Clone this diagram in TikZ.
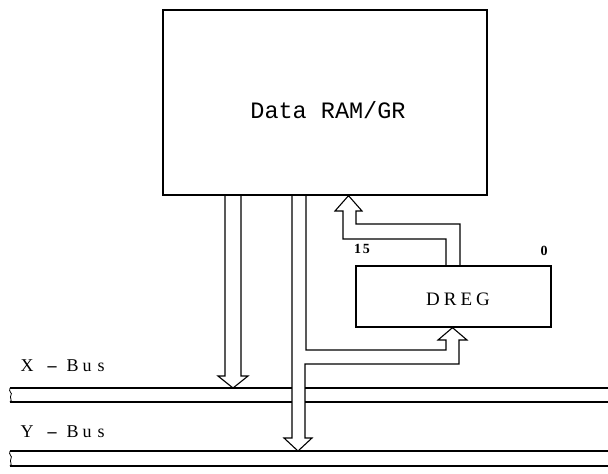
\documentclass[tikz,border=0pt]{standalone}
\usepackage{fontspec}
\setmainfont{Liberation Serif}
\newfontfamily\monofnt{Liberation Mono}
\begin{document}
\begin{tikzpicture}[x=1pt,y=-1pt,line width=1.1pt,line join=miter,
  box/.style={draw,rectangle,inner sep=0pt,line width=1.3pt},
  lbl/.style={inner sep=0pt,font=\fontsize{18}{18}\selectfont},
  bitlbl/.style={inner sep=0pt,font=\bfseries\fontsize{14}{14}\selectfont},
  busline/.style={line width=1.2pt}]
\useasboundingbox (0,0) rectangle (608,474);
% blocks
\node[box,minimum width=324pt,minimum height=185pt] (ram) at (325,102.5) {};
\node[inner sep=0pt,font=\monofnt\fontsize{23.5}{23.5}\selectfont] (ramtxt) at (328,110) {Data RAM/GR};
\node[box,minimum width=195pt,minimum height=61pt] (dreg) at (453.5,296.5) {};
\node[inner sep=0pt,font=\fontsize{19}{19}\selectfont] (dregtxt) at (458,299) {D\hspace{4pt}R\hspace{4pt}E\hspace{4pt}G};
\node[bitlbl] (b15) at (362,249) {1\hspace{2pt}5};
\node[bitlbl] (b0) at (544,251) {0};
% coordinates
\coordinate (ramb1) at (ram.south -| 225,0);
\coordinate (ramb2) at (ram.south -| 292,0);
\coordinate (ramb3) at (ram.south -| 306,0);
\coordinate (xtip) at (233,388);
\coordinate (ytip) at (298,451);
\coordinate (dregtip) at (dreg.south -| 452.5,0);
\coordinate (ramtip) at (ram.south -| 348.5,0);
% arrow RAM -> X-bus
\draw (ramb1) -- (225,376) -- (218,376) -- (xtip) -- (248,376) -- (241,376) -- (241,195);
% arrow RAM -> Y-bus with branch to DREG
\draw (ramb3) -- (306,350) -- (446,350) -- (446,340) -- (438,340) -- (dregtip)
      -- (467,340) -- (459,340) -- (459,364) -- (305,364) -- (305,438)
      -- (312,438) -- (ytip) -- (284,438) -- (292,438) -- (ramb2);
% arrow DREG -> RAM
\draw (446,266) -- (446,239) -- (343,239) -- (343,211) -- (335,211) -- (ramtip)
      -- (362,211) -- (356,211) -- (356,224) -- (460,224) -- (460,266);
% buses
\draw[busline] (10,388) -- (292,388) (305,388) -- (608,388);
\draw[busline] (10,402) -- (292,402) (305,402) -- (608,402);
\draw[busline] (10,451) -- (608,451);
\draw[busline] (10,466) -- (608,466);
\draw[line width=0.8pt] (10,388) .. controls (8,392) and (13,393) .. (11,395) .. controls (9,398) and (13,400) .. (10,402);
\draw[line width=0.8pt] (10,451) .. controls (8,455) and (13,456) .. (11,458.5) .. controls (9,462) and (13,464) .. (10,466);
\node[lbl,anchor=west] (xlbl) at (20,366) {X\hspace{14pt}\textbf{--}\hspace{10pt}B\hspace{4pt}u\hspace{6pt}s};
\node[lbl,anchor=west] (ylbl) at (20,432) {Y\hspace{14pt}\textbf{--}\hspace{10pt}B\hspace{4pt}u\hspace{6pt}s};
\end{tikzpicture}
\end{document}
